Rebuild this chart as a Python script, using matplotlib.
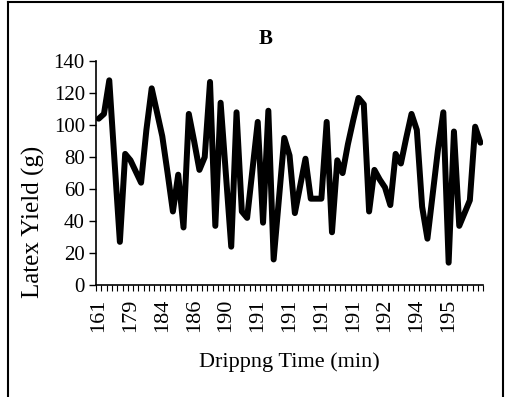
# latex yield vs dripping time, panel B
import numpy as np
import matplotlib
matplotlib.use('Agg')
import matplotlib.pyplot as plt
from matplotlib.lines import Line2D

# yield per collection (g)
latex_yield = [104, 107, 128, 77, 27, 82, 78, 71, 64, 97, 123, 108, 93, 70, 46,
               69, 36, 107, 90, 72, 80, 127, 37, 114, 69, 24, 108, 46, 42, 72,
               102, 39, 109, 16, 54, 92, 81, 45, 62, 79, 54, 54, 54, 102, 33,
               78, 70, 88, 103, 117, 113, 46, 72, 66, 61, 50, 82, 76, 92, 107,
               97, 49, 29, 57, 85, 108, 14, 96, 37, 45, 53, 99, 89]

# only every 6th dripping time is labelled on the axis
time_labels = ['161', '179', '184', '186', '190', '191', '191', '191', '191',
               '192', '194', '195']
label_step = 6

plt.rcParams['font.family'] = ['Liberation Serif', 'DejaVu Serif']

fig = plt.figure(figsize=(5.08, 3.97), dpi=100)
ax = fig.add_axes([0.189, 0.282, 0.762, 0.564])

x = np.arange(len(latex_yield))
ax.plot(x, latex_yield, color='black', linewidth=4.3,
        solid_joinstyle='round', solid_capstyle='round')

ax.set_xlim(-0.5, len(latex_yield) - 0.5)
ax.set_ylim(0, 140)
ax.set_yticks(np.arange(0, 141, 20))
ax.tick_params(axis='y', direction='out', length=5, width=1, labelsize=15, pad=3)

ax.set_xticks(x[:len(time_labels) * label_step:label_step])
ax.set_xticklabels(time_labels, rotation=90)
ax.set_xticks(np.arange(-0.5, len(latex_yield)), minor=True)
ax.tick_params(axis='x', which='major', length=0, labelsize=16, pad=10)
ax.tick_params(axis='x', which='minor', direction='out', length=4, width=0.8)

for s in ['top', 'right']:
    ax.spines[s].set_visible(False)
ax.spines['left'].set_linewidth(1.2)
ax.spines['bottom'].set_linewidth(1.2)

# the y label sits partly over the tick labels in the original
ax.set_ylabel('Latex Yield (g)', fontsize=18)
ax.yaxis.set_label_coords(-0.132, 0.28)
ax.set_xlabel('Drippng Time (min)', fontsize=16)
ax.xaxis.set_label_coords(0.50, -0.30)

fig.text(0.522, 0.903, 'B', fontsize=15, fontweight='bold', ha='center', va='center')

# outer frame (bottom edge is cut off in the original)
for xs, ys in [([0.016, 0.016], [0, 0.994]), ([0.016, 0.99], [0.994, 0.994]),
               ([0.99, 0.99], [0, 0.994])]:
    fig.add_artist(Line2D(xs, ys, color='black', linewidth=1.5))

fig.savefig('out.png', dpi=100)
